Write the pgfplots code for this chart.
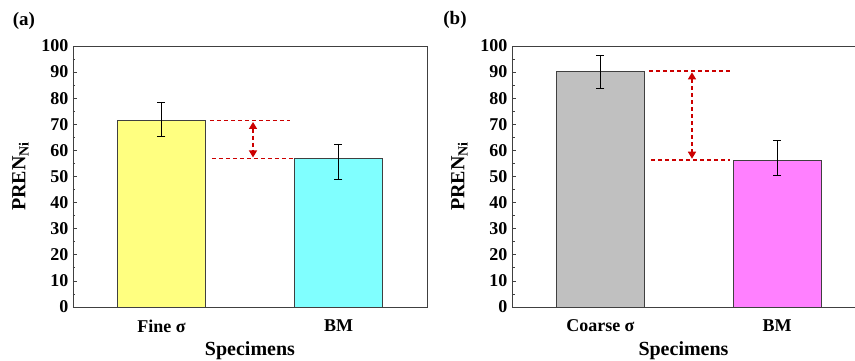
\documentclass[border=0pt]{standalone}
\usepackage{pgfplots}
\pgfplotsset{compat=1.18}
\usepackage{fontspec}
\setmainfont{Liberation Serif}
\usetikzlibrary{arrows.meta}
\definecolor{fy}{HTML}{FFFF80}
\definecolor{fc}{HTML}{80FFFF}
\definecolor{fg}{HTML}{C0C0C0}
\definecolor{fm}{HTML}{FF80FF}
\definecolor{edge}{HTML}{404040}
\definecolor{dred}{HTML}{CC0000}
\pgfplotsset{
  panel/.style={
    scale only axis, height=261pt,
    ymin=0, ymax=100, ytick={0,10,...,100}, minor y tick num=1,
    ytick pos=left, tick align=inside,
    major tick length=4pt, minor tick length=2.5pt,
    xmin=-0.5, xtick={0,1}, xtick style={draw=none},
    axis line style={edge, line width=0.9pt},
    every tick/.style={edge, line width=0.7pt},
    /pgf/number format/assume math mode=true,
    ticklabel style={font=\bfseries\fontsize{18}{18}\selectfont},
    yticklabel style={xshift=-1pt},
    xticklabel style={yshift=-9pt},
    label style={font=\bfseries\fontsize{20}{20}\selectfont},
    xlabel={Specimens},
    xlabel style={yshift=-3pt},
    ylabel={PREN\textsubscript{Ni}},
    ylabel style={yshift=6pt},
    clip=false,
  },
  bars/.style={ybar, bar width=0.5, draw=edge, line width=0.9pt,
    error bars/y dir=both, error bars/y explicit,
    error bars/error bar style={black, line width=0.7pt},
    error bars/error mark options={rotate=90, mark size=4pt, line width=0.7pt, black}},
  dl/.style={dred, line width=1.4pt, dash pattern=on 4pt off 3pt},
}
\begin{document}
\begin{tikzpicture}
\path[use as bounding box] (-73pt,-54pt) rectangle (782pt,307pt);
\begin{axis}[panel, at={(0pt,0pt)}, anchor=south west, width=354pt, xmax=1.5,
  xticklabels={Fine σ, BM}]
\addplot[bars, fill=fy] coordinates {(0,71.4) += (0,7.0) -= (0,6.0)};
\addplot[bars, fill=fc] coordinates {(1,56.8) += (0,5.7) -= (0,7.8)};
\addplot[dl] coordinates {(0.274,71.4) (0.726,71.4)};
\addplot[dl] coordinates {(0.285,56.8) (0.743,56.8)};
\addplot[dl, {Triangle[length=7pt,width=8pt]}-{Triangle[length=7pt,width=8pt]}] coordinates {(0.517,70.9) (0.517,57.3)};
\node[font=\bfseries\fontsize{19}{19}\selectfont] at (rel axis cs:0,1) [xshift=-49pt, yshift=25pt] {(a)};
\end{axis}
\begin{axis}[panel, at={(439pt,0pt)}, anchor=south west, width=343pt, xmax=1.44,
  xticklabels={Coarse σ, BM}]
\addplot[bars, fill=fg] coordinates {(0,90.4) += (0,6.1) -= (0,6.8)};
\addplot[bars, fill=fm] coordinates {(1,56.3) += (0,7.4) -= (0,5.7)};
\addplot[dl] coordinates {(0.276,90.4) (0.732,90.4)};
\addplot[dl] coordinates {(0.287,56.3) (0.732,56.3)};
\addplot[dl, {Triangle[length=7pt,width=8pt]}-{Triangle[length=7pt,width=8pt]}] coordinates {(0.518,89.9) (0.518,56.8)};
\node[font=\bfseries\fontsize{19}{19}\selectfont] at (rel axis cs:0,1) [xshift=-57pt, yshift=26pt] {(b)};
\end{axis}
\end{tikzpicture}
\end{document}
